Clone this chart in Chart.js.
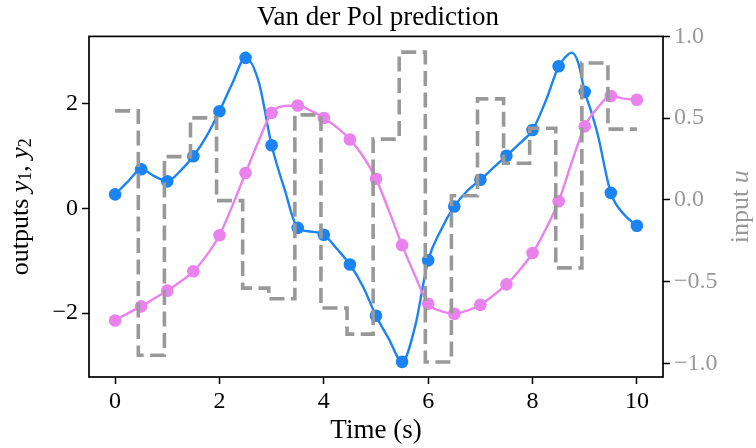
<!DOCTYPE html>
<html>
<head>
<meta charset="utf-8">
<script src="https://cdn.jsdelivr.net/npm/chart.js@4.4.1/dist/chart.umd.min.js"></script>
<style>
  html, body { margin: 0; padding: 0; background: #ffffff; }
  #wrap { width: 756px; height: 448px; position: relative; }
</style>
</head>
<body>
<div id="wrap"><canvas id="c" width="756" height="448"></canvas></div>
<script>
// ---- Data ----
// Sample times (markers)
const sampleT = [0, 0.5, 1, 1.5, 2, 2.5, 3, 3.5, 4, 4.5, 5, 5.5, 6, 6.5, 7, 7.5, 8, 8.5, 9, 9.5, 10];
const y1Samples = [0.27, 0.75, 0.52, 1.00, 1.86, 2.88, 1.21, -0.37, -0.50, -1.07, -2.05, -2.93, -0.99, 0.04, 0.55, 1.01, 1.50, 2.72, 2.23, 0.30, -0.33];
const y2Samples = [-2.14, -1.87, -1.57, -1.20, -0.51, 0.68, 1.83, 1.97, 1.73, 1.32, 0.57, -0.70, -1.82, -2.01, -1.84, -1.45, -0.85, 0.14, 1.57, 2.15, 2.08];

// Continuous trajectories (read at finer times)
const y1CurveT = [0, 0.25, 0.5, 0.75, 1, 1.25, 1.5, 1.75, 2, 2.25, 2.5, 2.75, 3, 3.25, 3.5, 3.75, 4, 4.25, 4.5, 4.75, 5, 5.25, 5.5, 5.75, 6, 6.25, 6.5, 6.75, 7, 7.25, 7.5, 7.75, 8, 8.25, 8.5, 8.625, 8.75, 8.875, 9, 9.125, 9.25, 9.5, 9.75, 10];
const y1Curve  = [0.27, 0.52, 0.75, 0.62, 0.52, 0.72, 1.00, 1.38, 1.86, 2.40, 2.88, 2.43, 1.21, 0.36, -0.37, -0.44, -0.50, -0.77, -1.07, -1.49, -2.05, -2.50, -2.93, -2.25, -0.99, -0.40, 0.04, 0.34, 0.55, 0.78, 1.01, 1.24, 1.50, 2.05, 2.72, 2.89, 2.98, 2.79, 2.23, 1.85, 1.41, 0.30, -0.11, -0.33];
const y2CurveT = [0, 0.25, 0.5, 0.75, 1, 1.25, 1.5, 1.75, 2, 2.25, 2.5, 2.75, 3, 3.25, 3.5, 3.75, 4, 4.25, 4.5, 4.75, 5, 5.25, 5.5, 5.75, 6, 6.25, 6.5, 6.75, 7, 7.25, 7.5, 7.75, 8, 8.25, 8.5, 8.75, 9, 9.25, 9.5, 9.75, 10];
const y2Curve  = [-2.14, -2.00, -1.87, -1.72, -1.57, -1.40, -1.20, -0.90, -0.51, 0.06, 0.68, 1.29, 1.83, 1.96, 1.97, 1.87, 1.73, 1.55, 1.32, 1.00, 0.57, -0.05, -0.70, -1.29, -1.82, -1.96, -2.01, -1.95, -1.84, -1.66, -1.45, -1.18, -0.85, -0.40, 0.14, 0.88, 1.57, 1.93, 2.15, 2.10, 2.08];

// Input u (piecewise constant; value holds from each time to the next)
const uT = [0, 0.445, 0.945, 1.445, 1.945, 2.445, 2.945, 3.445, 3.945, 4.445, 4.945, 5.445, 5.945, 6.445, 6.945, 7.445, 7.945, 8.445, 8.945, 9.445, 10];
const uVals = [0.545, -0.949, 0.265, 0.502, -0.004, -0.539, -0.604, 0.520, -0.660, -0.820, 0.372, 0.904, -0.990, 0.026, 0.618, 0.225, 0.439, -0.415, 0.837, 0.433, 0.433];

// Ticks
const xTicks = [0, 2, 4, 6, 8, 10];
const yLeftTicks = [-2, 0, 2];
const yRightTicks = [-1, -0.5, 0, 0.5, 1];
const yRightLabels = ['\u22121.0', '\u22120.5', '0.0', '0.5', '1.0'];

// ---- Build chart ----
const pts = (xs, ys) => xs.map((x, i) => ({x: x, y: ys[i]}));
const BLUE = '#1b84f2';
const VIOLET = '#ea82ee';
const GRAY = '#999999';
const SERIF = "'Liberation Serif', 'DejaVu Serif', serif";
const fmtMinus = v => (v < 0 ? '\u2212' + Math.abs(v) : String(v));

const framePlugin = {
  id: 'frameAndTitles',
  afterDatasetsDraw(chart) {
    const {ctx, chartArea: a} = chart;
    ctx.save();
    ctx.strokeStyle = '#000';
    ctx.lineWidth = 1.7;
    ctx.strokeRect(a.left, a.top, a.right - a.left, a.bottom - a.top);
    ctx.restore();
  },
  afterDraw(chart) {
    const {ctx, chartArea: a} = chart;
    const cy = (a.top + a.bottom) / 2;
    function drawRuns(runs, cx, color) {
      ctx.save();
      ctx.fillStyle = color;
      ctx.textBaseline = 'middle';
      let total = 0;
      runs.forEach(r => { ctx.font = r.font; r.w = ctx.measureText(r.t).width; total += r.w; });
      ctx.translate(cx, cy);
      ctx.rotate(-Math.PI / 2);
      let x = -total / 2;
      runs.forEach(r => { ctx.font = r.font; ctx.fillText(r.t, x, r.dy || 0); x += r.w; });
      ctx.restore();
    }
    const rom = '26px ' + SERIF, ita = 'italic 26px ' + SERIF, sub = '18px ' + SERIF;
    drawRuns([
      {t: 'outputs ', font: rom},
      {t: 'y', font: ita},
      {t: '1', font: sub, dy: 5},
      {t: ', ', font: rom},
      {t: 'y', font: ita},
      {t: '2', font: sub, dy: 5}
    ], 21, '#000');
    drawRuns([
      {t: 'input ', font: rom},
      {t: 'u', font: ita}
    ], 741, GRAY);
  }
};

new Chart(document.getElementById('c'), {
  type: 'line',
  data: {
    datasets: [
      {
        label: 'u', data: pts(uT, uVals), yAxisID: 'yR', order: 0,
        stepped: 'before', borderColor: GRAY, borderWidth: 3.6, borderDash: [15, 6.5],
        borderCapStyle: 'butt', pointRadius: 0, fill: false
      },
      {
        label: 'y1 samples', data: pts(sampleT, y1Samples), yAxisID: 'y', order: 2,
        showLine: false, pointRadius: 6.3, pointBackgroundColor: BLUE, pointBorderWidth: 0, borderColor: BLUE
      },
      {
        label: 'y2 samples', data: pts(sampleT, y2Samples), yAxisID: 'y', order: 1,
        showLine: false, pointRadius: 6.3, pointBackgroundColor: VIOLET, pointBorderWidth: 0, borderColor: VIOLET
      },
      {
        label: 'y1', data: pts(y1CurveT, y1Curve), yAxisID: 'y', order: 4,
        borderColor: BLUE, borderWidth: 2.4, pointRadius: 0, cubicInterpolationMode: 'monotone', fill: false
      },
      {
        label: 'y2', data: pts(y2CurveT, y2Curve), yAxisID: 'y', order: 3,
        borderColor: VIOLET, borderWidth: 2.4, pointRadius: 0, cubicInterpolationMode: 'monotone', fill: false
      }
    ]
  },
  options: {
    responsive: false,
    animation: false,
    devicePixelRatio: 1,
    layout: { padding: 0 },
    plugins: {
      legend: { display: false },
      tooltip: { enabled: false },
      title: {
        display: true, text: 'Van der Pol prediction', color: '#000',
        font: { family: SERIF, size: 27, weight: 'normal' },
        padding: { top: 2, bottom: 2 }
      }
    },
    scales: {
      x: {
        type: 'linear', min: -0.5, max: 10.5,
        afterBuildTicks: s => { s.ticks = xTicks.map(v => ({value: v})); },
        afterFit: s => { s.height = 71; },
        grid: { drawOnChartArea: false, drawTicks: true, tickLength: 7, tickColor: '#000', tickWidth: 1.5 },
        border: { display: false },
        ticks: { color: '#000', font: { family: SERIF, size: 24 }, padding: 3, maxRotation: 0, callback: v => fmtMinus(v) },
        title: { display: true, text: 'Time (s)', color: '#000', font: { family: SERIF, size: 27 }, padding: { top: 0, bottom: 1 } }
      },
      y: {
        type: 'linear', position: 'left', min: -3.22, max: 3.29,
        afterBuildTicks: s => { s.ticks = yLeftTicks.map(v => ({value: v})); },
        afterFit: s => { s.width = 89; },
        grid: { drawOnChartArea: false, drawTicks: true, tickLength: 7, tickColor: '#000', tickWidth: 1.5 },
        border: { display: false },
        ticks: { color: '#000', font: { family: SERIF, size: 24 }, padding: 4, callback: v => fmtMinus(v) }
      },
      yR: {
        type: 'linear', position: 'right', min: -1.082, max: 1.0,
        afterBuildTicks: s => { s.ticks = yRightTicks.map(v => ({value: v})); },
        afterFit: s => { s.width = 93; },
        grid: { drawOnChartArea: false, drawTicks: true, tickLength: 7, tickColor: '#000', tickWidth: 1.5 },
        border: { display: false },
        ticks: { color: GRAY, font: { family: SERIF, size: 24 }, padding: 4,
          callback: (v, i) => yRightLabels[yRightTicks.indexOf(v)] }
      }
    }
  },
  plugins: [framePlugin]
});
</script>
</body>
</html>
